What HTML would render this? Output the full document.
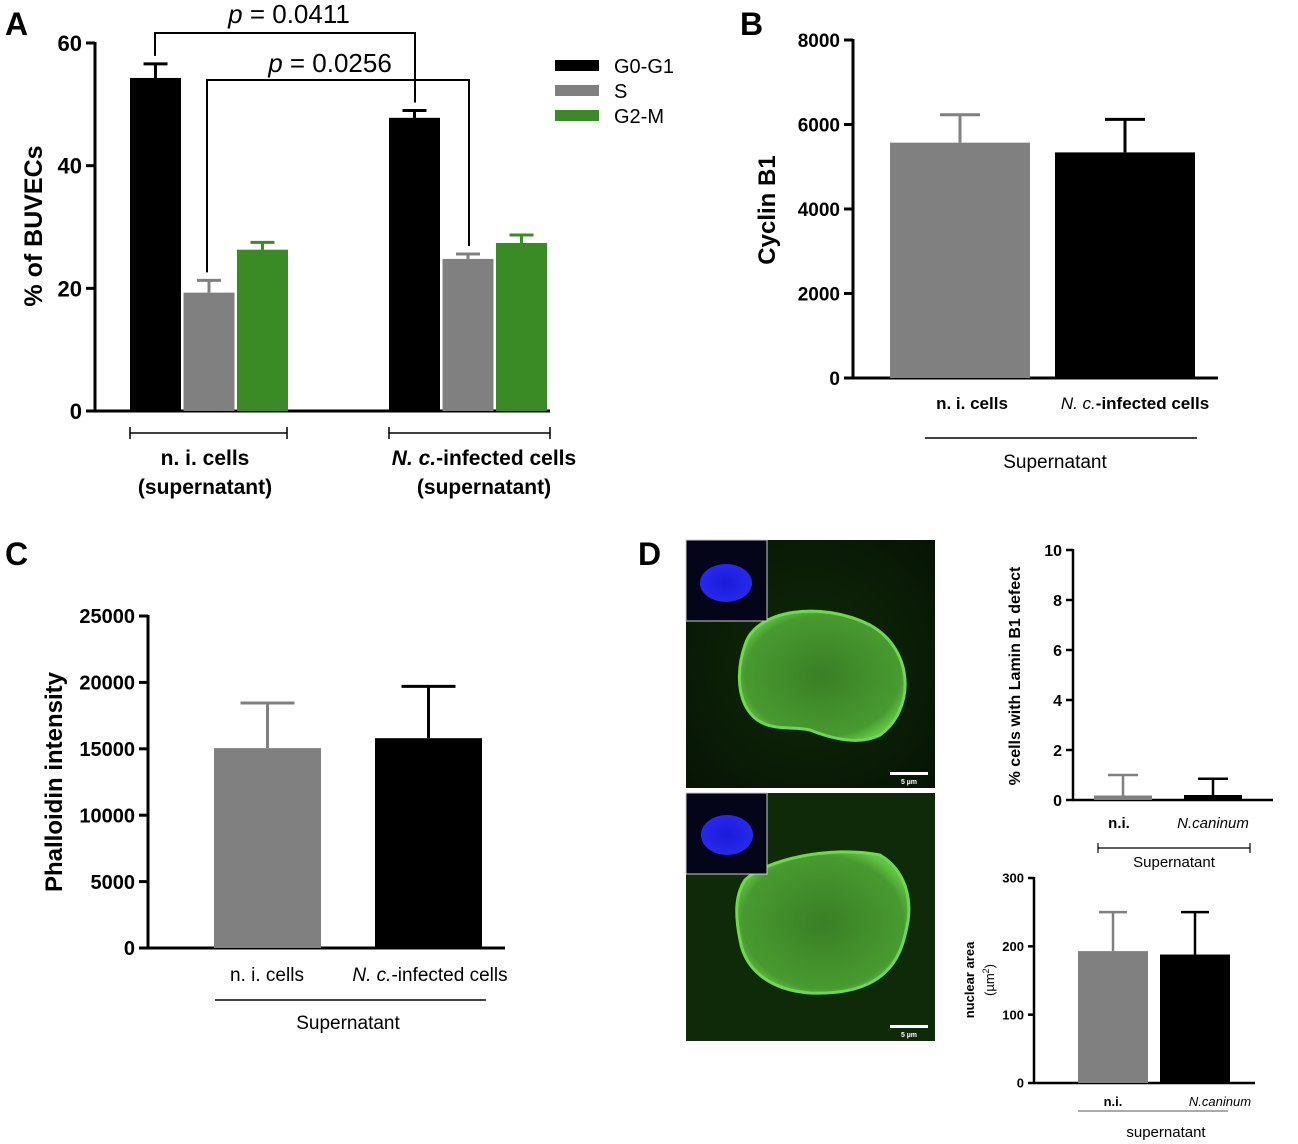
<!DOCTYPE html>
<html><head><meta charset="utf-8">
<style>
html,body{margin:0;padding:0;background:#fff;}
svg{display:block;font-family:"Liberation Sans",Arial,sans-serif;}
</style></head>
<body>
<svg id="fig" width="1298" height="1144" viewBox="0 0 1298 1144">
<defs>
<radialGradient id="gbg" cx="50%" cy="50%" r="70%"><stop offset="0" stop-color="#0f2a08"/><stop offset="1" stop-color="#071405"/></radialGradient>
<radialGradient id="nuc" cx="50%" cy="50%" r="55%"><stop offset="0" stop-color="#3a7f26"/><stop offset="0.85" stop-color="#489a30"/><stop offset="1" stop-color="#62c444"/></radialGradient>
<radialGradient id="bnuc" cx="50%" cy="50%" r="55%"><stop offset="0" stop-color="#1a1ad8"/><stop offset="1" stop-color="#2a2af0"/></radialGradient>
</defs>
<g>
<rect x="686" y="540" width="249" height="248" fill="url(#gbg)"/>
<path d="M745,645 C755,610 820,600 870,625 C915,650 915,710 880,735 C860,745 835,740 810,730 C790,725 760,735 745,705 C737,688 738,665 745,645Z" fill="url(#nuc)" stroke="#6fd84c" stroke-width="3"/>
<rect x="686" y="540" width="81" height="81" fill="#05051a" stroke="#ccc" stroke-width="1"/>
<ellipse cx="726" cy="583" rx="26" ry="19" fill="url(#bnuc)"/>
<rect x="890" y="772" width="38" height="3" fill="#fff"/>
<text x="909" y="784" font-size="7" fill="#fff" text-anchor="middle" font-weight="bold">5 µm</text>
</g>
<g>
<rect x="686" y="793" width="249" height="248" fill="#0e2a08"/>
<path d="M745,880 C765,860 830,845 880,855 C905,870 915,900 905,935 C895,980 860,995 810,993 C770,990 745,970 740,940 C735,915 735,895 745,880Z" fill="url(#nuc)" stroke="#6fd84c" stroke-width="3"/>
<rect x="686" y="793" width="81" height="81" fill="#05051a" stroke="#ccc" stroke-width="1"/>
<ellipse cx="727" cy="835" rx="26" ry="20" fill="url(#bnuc)"/>
<rect x="890" y="1025" width="38" height="3" fill="#fff"/>
<text x="909" y="1037" font-size="7" fill="#fff" text-anchor="middle" font-weight="bold">5 µm</text>
</g>
<text x="5" y="35" font-size="32" font-weight="bold">A</text>
<text x="740" y="35" font-size="32" font-weight="bold">B</text>
<text x="5" y="565" font-size="32" font-weight="bold">C</text>
<text x="638" y="565" font-size="32" font-weight="bold">D</text>
</svg>
<script>
// Panel A data
const aGroups = ["n. i. cells", "N. c.-infected cells"];
const aSeries = ["G0-G1", "S", "G2-M"];
const aG0 = [54.3, 47.8];
const aG0Err = [2.3, 1.2];
const aS = [19.3, 24.8];
const aSErr = [2.0, 0.8];
const aG2 = [26.3, 27.4];
const aG2Err = [1.2, 1.3];
const aTicks = [0, 20, 40, 60];
// Panel B data
const bCats = ["n. i. cells", "N. c.-infected cells"];
const bVals = [5570, 5340];
const bErr = [660, 780];
const bTicks = [0, 2000, 4000, 6000, 8000];
// Panel C data
const cCats = ["n. i. cells", "N. c.-infected cells"];
const cVals = [15050, 15800];
const cErr = [3400, 3900];
const cTicks = [0, 5000, 10000, 15000, 20000, 25000];
// Panel D data
const dCats = ["n.i.", "N.caninum"];
const d1Vals = [0.18, 0.2];
const d1Err = [0.82, 0.65];
const d1Ticks = [0, 2, 4, 6, 8, 10];
const d2Vals = [193, 188];
const d2Err = [57, 62];
const d2Ticks = [0, 100, 200, 300];

const svg = document.getElementById('fig');
const NS = 'http://www.w3.org/2000/svg';
function mk(tag, attrs, parent) {
  const e = document.createElementNS(NS, tag);
  for (const k in attrs) e.setAttribute(k, attrs[k]);
  (parent || svg).appendChild(e);
  return e;
}
function lin(d0, d1, r0, r1) { return v => r0 + (v - d0) * (r1 - r0) / (d1 - d0); }
function txt(x, y, s, size, opts, name) {
  const t = mk('text', Object.assign({x: x, y: y, 'font-size': size}, opts || {}));
  t.textContent = s;
  
  
  return t;
}
function bar(x, w, v, err, y, color, ecolor, sw, capw, name) {
  const b = mk('rect', {x: x, y: y(v), width: w, height: y(0) - y(v), fill: color});
  
  
  const cx = x + w / 2;
  const e = mk('path', {d: `M${cx},${y(v)}V${y(v + err)}M${cx - capw},${y(v + err)}H${cx + capw}`, stroke: ecolor, 'stroke-width': sw, fill: 'none'});
  
  
}
function yAxis(ax, y, ticks, top, bot, sw, tl, size, bold, name) {
  const g = mk('g', {});
  
  
  mk('line', {x1: ax, x2: ax, y1: top, y2: bot, stroke: '#000', 'stroke-width': sw}, g);
  ticks.forEach(t => {
    mk('line', {x1: ax - tl, x2: ax, y1: y(t), y2: y(t), stroke: '#000', 'stroke-width': sw}, g);
    const tt = mk('text', {x: ax - tl - 4, y: y(t) + size * 0.36, 'font-size': size, 'text-anchor': 'end', 'font-weight': bold ? 'bold' : 'normal'}, g);
    tt.textContent = t;
  });
}

// ===== Panel A =====
const yA = lin(0, 60, 411, 43);
yAxis(95, yA, aTicks, 42, 412, 3, 9, 22, true, 'a-y-axis');
const axA = mk('line', {x1: 94, x2: 550, y1: 411, y2: 411, stroke: '#000', 'stroke-width': 3});


const aStart = [130, 389];
const aCols = ['#000', '#808080', '#3a8a26'];
const aVals = [aG0, aS, aG2], aErrs = [aG0Err, aSErr, aG2Err];
const aNames = ['g0g1', 's', 'g2m'];
aGroups.forEach((g, i) => {
  for (let s = 0; s < 3; s++) {
    bar(aStart[i] + s * 53.5, 51, aVals[s][i], aErrs[s][i], yA, aCols[s], aCols[s], 3, 12, 'a-bar-' + aNames[s] + '-' + (i + 1));
  }
});
const br1 = mk('path', {d: `M155,${yA(aG0[0] + aG0Err[0]) - 8}V33H415V${yA(aG0[1] + aG0Err[1]) - 8}`, stroke: '#000', 'stroke-width': 2, fill: 'none'});


const br2 = mk('path', {d: `M207,${yA(aS[0] + aSErr[0]) - 8}V80H469V${yA(aS[1] + aSErr[1]) - 8}`, stroke: '#000', 'stroke-width': 2, fill: 'none'});


let p1 = txt(289, 23, '', 26, {'text-anchor': 'middle'}, 'a-p-value-1');
p1.innerHTML = '<tspan font-style="italic">p</tspan> = 0.0411';
let p2 = txt(330, 72, '', 26, {'text-anchor': 'middle'}, 'a-p-value-2');
p2.innerHTML = '<tspan font-style="italic">p</tspan> = 0.0256';
aSeries.forEach((s, i) => {
  const lg = mk('g', {});
  
  
  mk('rect', {x: 555, y: 60 + i * 25, width: 44, height: 11, fill: aCols[i]}, lg);
  const t = mk('text', {x: 614, y: 73 + i * 25, 'font-size': 20}, lg);
  t.textContent = s;
});
[[130, 287], [389, 550]].forEach((r, i) => {
  const p = mk('path', {d: `M${r[0]},427V439M${r[0]},433H${r[1]}M${r[1]},427V439`, stroke: '#000', 'stroke-width': 1.5, fill: 'none'});
  
  
});
txt(205, 465, 'n. i. cells', 21, {'text-anchor': 'middle', 'font-weight': 'bold'}, 'a-x-label-1');
txt(205, 494, '(supernatant)', 21, {'text-anchor': 'middle', 'font-weight': 'bold'}, 'a-x-label-1-sub');
let al2 = txt(484, 465, '', 21, {'text-anchor': 'middle', 'font-weight': 'bold'}, 'a-x-label-2');
al2.innerHTML = '<tspan font-style="italic">N. c.</tspan>-infected cells';
txt(484, 494, '(supernatant)', 21, {'text-anchor': 'middle', 'font-weight': 'bold'}, 'a-x-label-2-sub');
txt(0, 0, '% of BUVECs', 25, {'text-anchor': 'middle', 'font-weight': 'bold', transform: 'translate(42,226) rotate(-90)'}, 'a-y-axis-title');

// ===== Panel B =====
const yB = lin(0, 8000, 378, 40);
yAxis(853, yB, bTicks, 39, 379, 3, 9, 19, true, 'b-y-axis');
const axB = mk('line', {x1: 852, x2: 1218, y1: 378, y2: 378, stroke: '#000', 'stroke-width': 3});


const bX = [890, 1055], bCol = ['#808080', '#000'];
bCats.forEach((c, i) => bar(bX[i], 140, bVals[i], bErr[i], yB, bCol[i], bCol[i], 3, 20, 'b-bar-' + (i + 1)));
txt(972, 409, 'n. i. cells', 17, {'text-anchor': 'middle', 'font-weight': 'bold'}, 'b-x-label-1');
let bl2 = txt(1135, 409, '', 17, {'text-anchor': 'middle', 'font-weight': 'bold'}, 'b-x-label-2');
bl2.innerHTML = '<tspan font-style="italic" font-weight="normal">N. c.</tspan>-infected cells';
const lB = mk('line', {x1: 925, x2: 1197, y1: 438, y2: 438, stroke: '#000', 'stroke-width': 1.5});


txt(1055, 468, 'Supernatant', 19, {'text-anchor': 'middle'}, 'b-group-label');
txt(0, 0, 'Cyclin B1', 24, {'text-anchor': 'middle', 'font-weight': 'bold', transform: 'translate(775,210) rotate(-90)'}, 'b-y-axis-title');

// ===== Panel C =====
const yC = lin(0, 25000, 948, 616);
yAxis(148, yC, cTicks, 615, 949, 3, 9, 20, true, 'c-y-axis');
const axC = mk('line', {x1: 147, x2: 505, y1: 948, y2: 948, stroke: '#000', 'stroke-width': 3});


const cX = [214, 375];
cCats.forEach((c, i) => bar(cX[i], 107, cVals[i], cErr[i], yC, bCol[i], bCol[i], 3, 27, 'c-bar-' + (i + 1)));
txt(267, 981, 'n. i. cells', 19, {'text-anchor': 'middle'}, 'c-x-label-1');
let cl2 = txt(430, 981, '', 19, {'text-anchor': 'middle'}, 'c-x-label-2');
cl2.innerHTML = '<tspan font-style="italic">N. c.</tspan>-infected cells';
const lC = mk('line', {x1: 215, x2: 486, y1: 1000, y2: 1000, stroke: '#000', 'stroke-width': 1.5});


txt(348, 1029, 'Supernatant', 19, {'text-anchor': 'middle'}, 'c-group-label');
txt(0, 0, 'Phalloidin intensity', 24, {'text-anchor': 'middle', 'font-weight': 'bold', transform: 'translate(62,782) rotate(-90)'}, 'c-y-axis-title');

// ===== Panel D1 =====
const yD1 = lin(0, 10, 800, 550);
yAxis(1073, yD1, d1Ticks, 549, 801, 2.5, 7, 16, true, 'd1-y-axis');
const axD1 = mk('line', {x1: 1072, x2: 1273, y1: 800, y2: 800, stroke: '#000', 'stroke-width': 2.5});


const d1X = [1094, 1184];
dCats.forEach((c, i) => bar(d1X[i], 58, d1Vals[i], d1Err[i], yD1, bCol[i], bCol[i], 2.5, 15, 'd1-bar-' + (i + 1)));
txt(1119, 828, 'n.i.', 15, {'text-anchor': 'middle', 'font-weight': 'bold'}, 'd1-x-label-1');
txt(1213, 828, 'N.caninum', 15, {'text-anchor': 'middle', 'font-style': 'italic'}, 'd1-x-label-2');
const bD1 = mk('path', {d: 'M1098,843V853M1098,848H1250M1250,843V853', stroke: '#000', 'stroke-width': 1.2, fill: 'none'});


txt(1174, 867, 'Supernatant', 15, {'text-anchor': 'middle'}, 'd1-group-label');
txt(0, 0, '% cells with Lamin B1 defect', 16, {'text-anchor': 'middle', 'font-weight': 'bold', transform: 'translate(1020,676) rotate(-90)'}, 'd1-y-axis-title');

// ===== Panel D2 =====
const yD2 = lin(0, 300, 1083, 878);
yAxis(1034, yD2, d2Ticks, 877, 1084, 2.5, 6, 13, true, 'd2-y-axis');
const axD2 = mk('line', {x1: 1033, x2: 1255, y1: 1083, y2: 1083, stroke: '#000', 'stroke-width': 2.5});


const d2X = [1078, 1160];
dCats.forEach((c, i) => bar(d2X[i], 70, d2Vals[i], d2Err[i], yD2, bCol[i], bCol[i], 2.5, 14, 'd2-bar-' + (i + 1)));
txt(1113, 1106, 'n.i.', 13, {'text-anchor': 'middle', 'font-weight': 'bold'}, 'd2-x-label-1');
txt(1220, 1106, 'N.caninum', 13, {'text-anchor': 'middle', 'font-style': 'italic'}, 'd2-x-label-2');
const lD2 = mk('line', {x1: 1078, x2: 1228, y1: 1111, y2: 1111, stroke: '#555', 'stroke-width': 1});


txt(1166, 1137, 'supernatant', 15, {'text-anchor': 'middle'}, 'd2-group-label');
txt(0, 0, 'nuclear area', 13, {'text-anchor': 'middle', 'font-weight': 'bold', transform: 'translate(974,980) rotate(-90)'}, 'd2-y-axis-title');
let d2u = txt(0, 0, '', 13, {'text-anchor': 'middle', transform: 'translate(994,980) rotate(-90)'}, 'd2-y-axis-unit');
d2u.innerHTML = '(µm<tspan dy="-5" font-size="9">2</tspan><tspan dy="5">)</tspan>';
</script>
</body></html>
